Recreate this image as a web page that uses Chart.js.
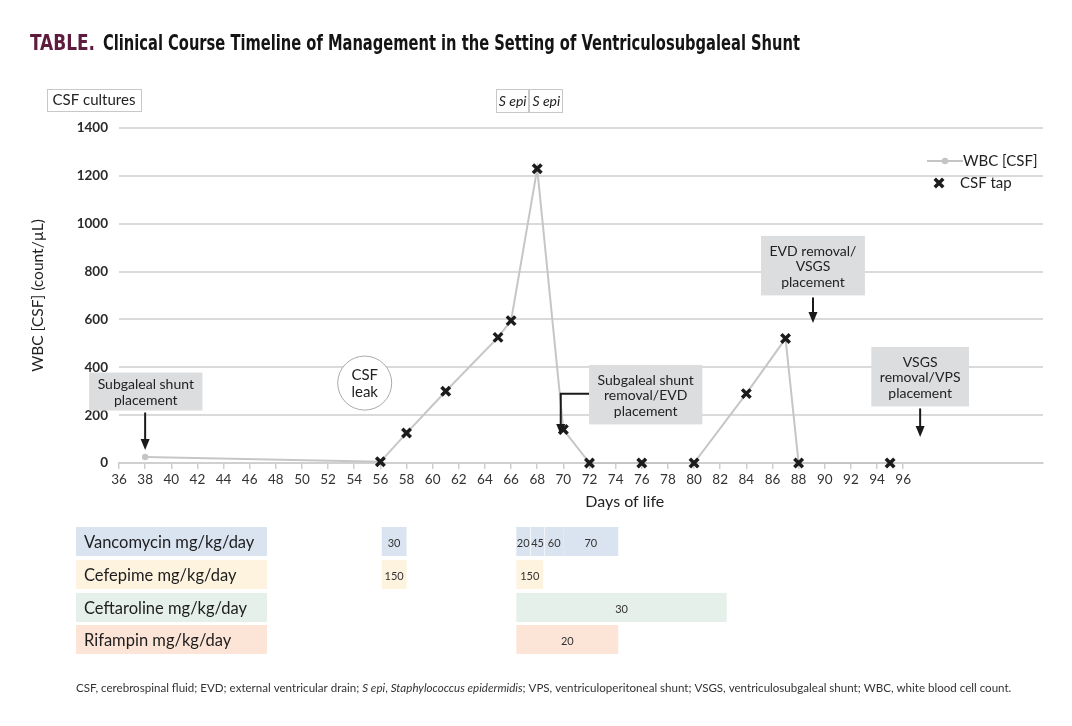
<!DOCTYPE html>
<html>
<head>
<meta charset="utf-8">
<script src="https://cdn.jsdelivr.net/npm/chart.js@4.4.1/dist/chart.umd.min.js"></script>
<style>
  html, body { margin: 0; padding: 0; background: #fff; }
  #wrap { width: 1072px; height: 726px; position: relative; }
</style>
</head>
<body>
<div id="wrap"><canvas id="chart"></canvas></div>
<script>
// WBC in CSF by day of life
const days = [38, 56, 58, 61, 65, 66, 68, 70, 72, 76, 80, 84, 87, 88, 95];
const wbc = [25, 5, 125, 300, 525, 595, 1230, 140, 0, 0, 0, 290, 520, 0, 0];
const csfTap = [false, true, true, true, true, true, true, true, true, true, true, true, true, true, true];

const yTicks = [0, 200, 400, 600, 800, 1000, 1200, 1400];
const xTicks = [36, 38, 40, 42, 44, 46, 48, 50, 52, 54, 56, 58, 60, 62, 64, 66, 68, 70, 72, 74, 76, 78, 80, 82, 84, 86, 88, 90, 92, 94, 96];

// CSF culture results (day spans)
const cultureLabels = ['S epi', 'S epi'];
const cultureSpans = [[64.85, 67.4], [67.4, 70.0]];

// antibiotic courses: [start day, end day, dose]
const drugNames = ['Vancomycin mg/kg/day', 'Cefepime mg/kg/day', 'Ceftaroline mg/kg/day', 'Rifampin mg/kg/day'];
const vancomycin = [[56.1, 58, '30'], [66.4, 67.45, '20'], [67.5, 68.55, '45'], [68.6, 70, '60'], [70, 74.2, '70']];
const cefepime = [[56.1, 58, '150'], [66.4, 68.45, '150']];
const ceftaroline = [[66.4, 82.5, '30']];
const rifampin = [[66.4, 74.2, '20']];
const drugColors = ['#dae4f0', '#fdf3df', '#e5f0eb', '#fce5d6'];

// event notes: anchor day / value
const notes = [
  { lines: ['Subgaleal shunt', 'placement'], day: 38.05, top: 378, pad: 3.5, arrow: [[38.0, 'bottom'], [38.0, 54]] },
  { lines: ['Subgaleal shunt', 'removal/EVD', 'placement'], day: 76.3, top: 410, pad: 6.5, elbow: [69.8, 117] },
  { lines: ['EVD removal/', 'VSGS', 'placement'], day: 89.1, top: 949, pad: 6.5, arrow: [[89.1, 'bottom'], [89.1, 585]] },
  { lines: ['VSGS', 'removal/VPS', 'placement'], day: 97.3, top: 485, pad: 6.5, arrow: [[97.3, 'bottom'], [97.3, 109]] }
];
const leak = { lines: ['CSF', 'leak'], day: 54.8, value: 334 };

const FONT = 'Lato, "Open Sans", sans-serif';

function arrowHead(ctx, x1, y1, x2, y2) {
  const a = Math.atan2(y2 - y1, x2 - x1);
  const L = 11, W = 4.5;
  ctx.beginPath();
  ctx.moveTo(x2, y2);
  ctx.lineTo(x2 - L * Math.cos(a) + W * Math.sin(a), y2 - L * Math.sin(a) - W * Math.cos(a));
  ctx.lineTo(x2 - L * Math.cos(a) - W * Math.sin(a), y2 - L * Math.sin(a) + W * Math.cos(a));
  ctx.closePath();
  ctx.fill();
}

function drawX(ctx, x, y, r, w) {
  const d = r * Math.SQRT1_2;
  ctx.save();
  ctx.strokeStyle = '#1c1c1c';
  ctx.lineWidth = w;
  ctx.beginPath();
  ctx.moveTo(x - d, y - d); ctx.lineTo(x + d, y + d);
  ctx.moveTo(x + d, y - d); ctx.lineTo(x - d, y + d);
  ctx.stroke();
  ctx.restore();
}

const decor = {
  id: 'decor',
  afterDraw(chart) {
    const ctx = chart.ctx;
    const xs = chart.scales.x, ys = chart.scales.y;
    const area = chart.chartArea;
    ctx.save();

    // title
    ctx.textBaseline = 'alphabetic';
    ctx.textAlign = 'left';
    ctx.font = 'bold 22px "Liberation Sans Narrow", "DejaVu Sans Condensed", sans-serif';
    ctx.fillStyle = '#5e1b3e';
    ctx.fillText('TABLE.', 30, 50, 65);
    ctx.fillStyle = '#141414';
    ctx.fillText('Clinical Course Timeline of Management in the Setting of Ventriculosubgaleal Shunt', 103, 50, 697);

    // y axis title
    ctx.save();
    ctx.translate(38, (area.top + area.bottom) / 2);
    ctx.rotate(-Math.PI / 2);
    ctx.textAlign = 'center';
    ctx.textBaseline = 'middle';
    ctx.font = '15.5px ' + FONT;
    ctx.fillStyle = '#222';
    ctx.fillText('WBC [CSF] (count/\u00B5L)', 0, 0);
    ctx.restore();

    // x axis title
    ctx.textAlign = 'center';
    ctx.textBaseline = 'middle';
    ctx.font = '16px ' + FONT;
    ctx.fillStyle = '#222';
    ctx.fillText('Days of life', xs.getPixelForValue(74.7), 502);

    // CSF cultures header
    ctx.lineWidth = 1;
    ctx.strokeStyle = '#c8c8c8';
    ctx.fillStyle = '#fff';
    ctx.fillRect(47, 89, 94, 22);
    ctx.strokeRect(47.5, 89.5, 94, 22);
    ctx.fillStyle = '#222';
    ctx.font = '15px ' + FONT;
    ctx.fillText('CSF cultures', 94, 100.5);
    cultureSpans.forEach((s, i) => {
      const x1 = xs.getPixelForValue(s[0]), x2 = xs.getPixelForValue(s[1]);
      ctx.strokeRect(Math.round(x1) + 0.5, 89.5, Math.round(x2 - x1) - 1, 23);
      ctx.font = 'italic 14px ' + FONT;
      ctx.fillStyle = '#222';
      ctx.fillText(cultureLabels[i], (x1 + x2) / 2, 101.5);
    });

    // legend
    const lx = area.right - 116, ly = area.top + 33;
    ctx.strokeStyle = '#c4c4c4';
    ctx.lineWidth = 2;
    ctx.beginPath(); ctx.moveTo(lx, ly); ctx.lineTo(lx + 36, ly); ctx.stroke();
    ctx.fillStyle = '#c4c4c4';
    ctx.beginPath(); ctx.arc(lx + 18, ly, 3.2, 0, Math.PI * 2); ctx.fill();
    ctx.textAlign = 'left';
    ctx.fillStyle = '#222';
    ctx.font = '15px ' + FONT;
    ctx.fillText('WBC [CSF]', lx + 36, ly);
    drawX(ctx, lx + 12, ly + 22, 6, 3.5);
    ctx.fillText('CSF tap', lx + 33, ly + 22);

    // notes
    ctx.font = '14px ' + FONT;
    const lh = 15.5;
    notes.forEach(n => {
      const w = Math.max(...n.lines.map(t => ctx.measureText(t).width)) + 17;
      const h = n.lines.length * lh + n.pad * 2;
      const cx = xs.getPixelForValue(n.day);
      const top = ys.getPixelForValue(n.top);
      ctx.fillStyle = '#dcdddf';
      ctx.fillRect(cx - w / 2, top, w, h);
      ctx.fillStyle = '#222';
      ctx.textAlign = 'center';
      ctx.textBaseline = 'middle';
      n.lines.forEach((t, i) => ctx.fillText(t, cx, top + n.pad + lh * (i + 0.5) + 1));
      ctx.strokeStyle = '#1a1a1a';
      ctx.fillStyle = '#1a1a1a';
      ctx.lineWidth = 2;
      if (n.arrow) {
        const ax = xs.getPixelForValue(n.arrow[0][0]);
        const y1 = top + h + 2;
        const y2 = ys.getPixelForValue(n.arrow[1][1]);
        ctx.beginPath(); ctx.moveTo(ax, y1); ctx.lineTo(ax, y2 - 8); ctx.stroke();
        arrowHead(ctx, ax, y1, ax, y2);
      } else if (n.elbow) {
        const ex = xs.getPixelForValue(n.elbow[0]);
        const ey = ys.getPixelForValue(n.elbow[1]);
        const my = top + h / 2 - 1;
        ctx.beginPath();
        ctx.moveTo(cx - w / 2, my); ctx.lineTo(ex, my); ctx.lineTo(ex, ey - 8);
        ctx.stroke();
        arrowHead(ctx, ex, my, ex, ey);
      }
    });

    // CSF leak circle
    const lcx = xs.getPixelForValue(leak.day), lcy = ys.getPixelForValue(leak.value);
    ctx.fillStyle = '#fff';
    ctx.strokeStyle = '#aaa';
    ctx.lineWidth = 1;
    ctx.beginPath(); ctx.arc(lcx, lcy, 27, 0, Math.PI * 2); ctx.fill(); ctx.stroke();
    ctx.fillStyle = '#222';
    ctx.font = '15px ' + FONT;
    ctx.fillText(leak.lines[0], lcx, lcy - 8);
    ctx.fillText(leak.lines[1], lcx, lcy + 9);

    // drug table
    const rows = [vancomycin, cefepime, ceftaroline, rifampin];
    const rowTop = [527, 560, 593, 625];
    const rowH = 29;
    rows.forEach((segs, r) => {
      const y0 = rowTop[r];
      ctx.fillStyle = drugColors[r];
      ctx.fillRect(76, y0, 191, rowH);
      ctx.fillStyle = '#1e1e1e';
      ctx.textAlign = 'left';
      ctx.textBaseline = 'middle';
      ctx.font = '16.5px ' + FONT;
      ctx.fillText(drugNames[r], 84, y0 + rowH / 2 + 1);
      segs.forEach(s => {
        const x1 = xs.getPixelForValue(s[0]), x2 = xs.getPixelForValue(s[1]);
        ctx.fillStyle = drugColors[r];
        ctx.fillRect(x1, y0, x2 - x1, rowH);
      });
      segs.forEach(s => {
        const x1 = xs.getPixelForValue(s[0]), x2 = xs.getPixelForValue(s[1]);
        ctx.fillStyle = '#333';
        ctx.textAlign = 'center';
        ctx.font = '11px ' + FONT;
        ctx.fillText(s[2], (x1 + x2) / 2, y0 + rowH / 2 + 2);
      });
    });

    // footnote
    const runs = [
      ['CSF, cerebrospinal fluid; EVD; external ventricular drain; ', ''],
      ['S epi', 'italic '],
      [', ', ''],
      ['Staphylococcus epidermidis', 'italic '],
      ['; VPS, ventriculoperitoneal shunt; VSGS, ventriculosubgaleal shunt; WBC, white blood cell count.', '']
    ];
    let total = 0;
    runs.forEach(rn => { ctx.font = rn[1] + '11px ' + FONT; total += ctx.measureText(rn[0]).width; });
    const fs = 11 * 936 / total;
    let fx = 76;
    ctx.textAlign = 'left';
    ctx.textBaseline = 'middle';
    ctx.fillStyle = '#333';
    runs.forEach(rn => {
      ctx.font = rn[1] + fs.toFixed(2) + 'px ' + FONT;
      ctx.fillText(rn[0], fx, 688);
      fx += ctx.measureText(rn[0]).width;
    });

    ctx.restore();
  }
};

const points = days.map((d, i) => ({ x: d, y: wbc[i] }));

new Chart(document.getElementById('chart'), {
  type: 'line',
  data: {
    datasets: [
      {
        label: 'WBC [CSF]',
        data: points,
        borderColor: '#c6c6c6',
        borderWidth: 2,
        pointRadius: c => csfTap[c.dataIndex] ? 0 : 3.2,
        pointBackgroundColor: '#c6c6c6',
        pointBorderWidth: 0,
        tension: 0,
        clip: false,
        order: 2
      },
      {
        label: 'CSF tap',
        type: 'scatter',
        data: points.filter((p, i) => csfTap[i]),
        pointStyle: 'crossRot',
        pointRadius: 6,
        borderColor: '#1c1c1c',
        borderWidth: 3.5,
        clip: false,
        order: 1
      }
    ]
  },
  options: {
    responsive: true,
    maintainAspectRatio: false,
    animation: false,
    layout: { padding: { top: 128, left: 0, right: 29, bottom: 0 } },
    plugins: { legend: { display: false }, tooltip: { enabled: false } },
    scales: {
      x: {
        type: 'linear',
        min: 36,
        max: 106.7,
        afterBuildTicks: s => { s.ticks = xTicks.map(v => ({ value: v })); },
        afterFit: s => { s.height = 263; },
        grid: { drawOnChartArea: false, drawTicks: true, tickLength: 6, color: '#cfcfcf', lineWidth: 1.5 },
        border: { color: '#d0d0d0', width: 2 },
        ticks: { padding: 3, autoSkip: false, maxRotation: 0, color: '#333', font: { family: FONT, size: 13.5 }, callback: v => String(v) }
      },
      y: {
        min: 0,
        max: 1400,
        afterBuildTicks: s => { s.ticks = yTicks.map(v => ({ value: v })); },
        afterFit: s => { s.width = 119; },
        grid: { color: '#dadada', lineWidth: 2, drawTicks: false },
        border: { display: false },
        ticks: { padding: 11, color: '#2a2a2a', font: { family: FONT, size: 13.5, weight: 'bold' }, callback: v => String(v) }
      }
    }
  },
  plugins: [decor]
});
</script>
</body>
</html>
